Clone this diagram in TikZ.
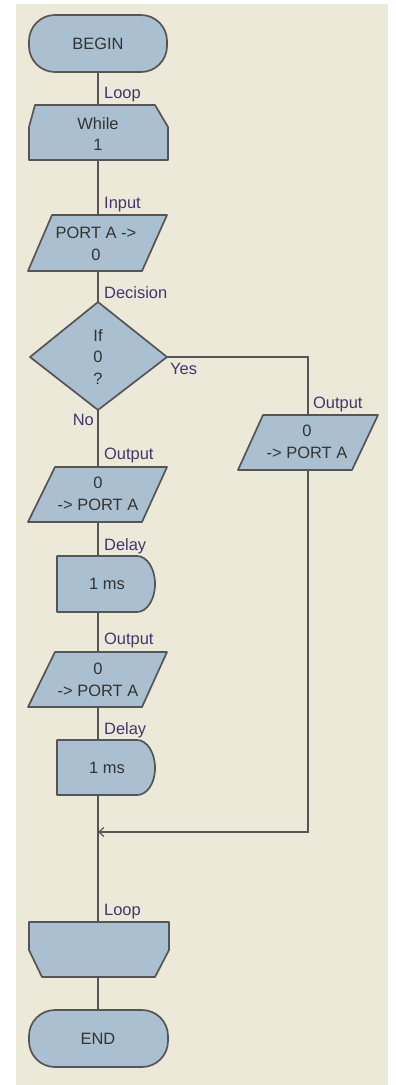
\documentclass[tikz,border=0pt]{standalone}
\usepackage{fontspec}
\setmainfont{Liberation Sans}
\usetikzlibrary{arrows.meta}
\definecolor{bgc}{HTML}{ECE9D8}
\definecolor{boxc}{HTML}{AAC0D0}
\definecolor{linec}{HTML}{555555}
\definecolor{lblc}{HTML}{42366F}
\definecolor{txtc}{HTML}{333333}
\begin{document}
\begin{tikzpicture}[x=1bp,y=-1bp,
  shp/.style={draw=linec,fill=boxc,line width=1.7bp,line join=round},
  conn/.style={draw=linec,line width=1.7bp},
  txt/.style={text=txtc,font=\fontsize{16.5}{21.5}\selectfont,inner sep=0pt,align=center},
  lbl/.style={text=lblc,font=\fontsize{16.5}{19}\selectfont,inner sep=0pt}]
\useasboundingbox (0,0) rectangle (395,1085);
\fill[white] (0,0) rectangle (395,1085);
\fill[bgc] (16,4) rectangle (388,1085);

% anchor coordinates
\coordinate (begin-s) at (98,72);
\coordinate (while-n) at (98,105);
\coordinate (while-s) at (98,160);
\coordinate (in-n) at (98,215);
\coordinate (in-s) at (98,271);
\coordinate (dec-n) at (98,302);
\coordinate (dec-s) at (98,410);
\coordinate (dec-e) at (167,357);
\coordinate (out1-n) at (98,467);
\coordinate (out1-s) at (98,522);
\coordinate (del1-n) at (98,556);
\coordinate (del1-s) at (98,612);
\coordinate (out2-n) at (98,652);
\coordinate (out2-s) at (98,707);
\coordinate (del2-n) at (98,740);
\coordinate (del2-s) at (98,795);
\coordinate (join) at (98,832);
\coordinate (lend-n) at (98,922);
\coordinate (lend-s) at (98,977);
\coordinate (end-n) at (98,1010);
\coordinate (rout-n) at (308,415);
\coordinate (rout-s) at (308,470);
\coordinate (rcorner) at (308,832);

% connectors
\draw[conn] (begin-s) -- (while-n);
\draw[conn] (while-s) -- (in-n);
\draw[conn] (in-s) -- (dec-n);
\draw[conn] (dec-s) -- (out1-n);
\draw[conn] (out1-s) -- (del1-n);
\draw[conn] (del1-s) -- (out2-n);
\draw[conn] (out2-s) -- (del2-n);
\draw[conn] (del2-s) -- (lend-n);
\draw[conn] (lend-s) -- (end-n);
\draw[conn] (dec-e) -| (rout-n);
\draw[conn,-{Straight Barb[length=5bp,width=9bp,line width=1.2bp]}] (rout-s) -- (rcorner) -- (join);

% shapes
\draw[shp,rounded corners=26bp] (29,15) rectangle (167,72);
\draw[shp] (35,105) -- (155,105) -- (168,127) -- (168,160) -- (29,160) -- (29,127) -- cycle;
\draw[shp] (52,215) -- (167,215) -- (142,271) -- (28,271) -- cycle;
\draw[shp] (98,302) -- (167,357) -- (98,410) -- (30,357) -- cycle;
\draw[shp] (55,467) -- (167,467) -- (142,522) -- (28,522) -- cycle;
\draw[shp] (57,556) -- (137,556) .. controls (147,556) and (155,568.5) .. (155,584)
  .. controls (155,599.5) and (147,612) .. (137,612) -- (57,612) -- cycle;
\draw[shp] (55,652) -- (167,652) -- (142,707) -- (28,707) -- cycle;
\draw[shp] (57,740) -- (137,740) .. controls (147,740) and (155,752.5) .. (155,768)
  .. controls (155,783.5) and (147,795) .. (137,795) -- (57,795) -- cycle;
\draw[shp] (263,415) -- (378,415) -- (352,470) -- (238,470) -- cycle;
\draw[shp] (29,922) -- (169,922) -- (169,950) -- (155,977) -- (42,977) -- (29,950) -- cycle;
\draw[shp,rounded corners=26bp] (29,1010) rectangle (168,1067);

% texts
\node[txt] (tbegin) at (98,44) {BEGIN};
\node[txt] (twhile) at (98,134) {While\\1};
\node[txt] (tin) at (96,244) {PORT A -\textgreater\\0};
\node[txt] (tdec) at (98,357) {If\\0\\?};
\node[txt] (tout1) at (98,494) {0\\-\textgreater{} PORT A};
\node[txt] (tdel1) at (107,584) {1 ms};
\node[txt] (tout2) at (98,680) {0\\-\textgreater{} PORT A};
\node[txt] (tdel2) at (107,768) {1 ms};
\node[txt] (trout) at (307,442) {0\\-\textgreater{} PORT A};
\node[txt] (tend) at (98,1039) {END};

% labels
\node[lbl,anchor=west] (l1) at (104,95) {Loop};
\node[lbl,anchor=west] (l2) at (104,205) {Input};
\node[lbl,anchor=west] (l3) at (104,293) {Decision};
\node[lbl,anchor=west] (l4) at (170,369) {Yes};
\node[lbl,anchor=east] (l5) at (94,420) {No};
\node[lbl,anchor=west] (l6) at (313,404) {Output};
\node[lbl,anchor=west] (l7) at (104,455) {Output};
\node[lbl,anchor=west] (l8) at (104,546) {Delay};
\node[lbl,anchor=west] (l9) at (104,640) {Output};
\node[lbl,anchor=west] (l10) at (104,730) {Delay};
\node[lbl,anchor=west] (l11) at (104,912) {Loop};
\end{tikzpicture}
\end{document}
